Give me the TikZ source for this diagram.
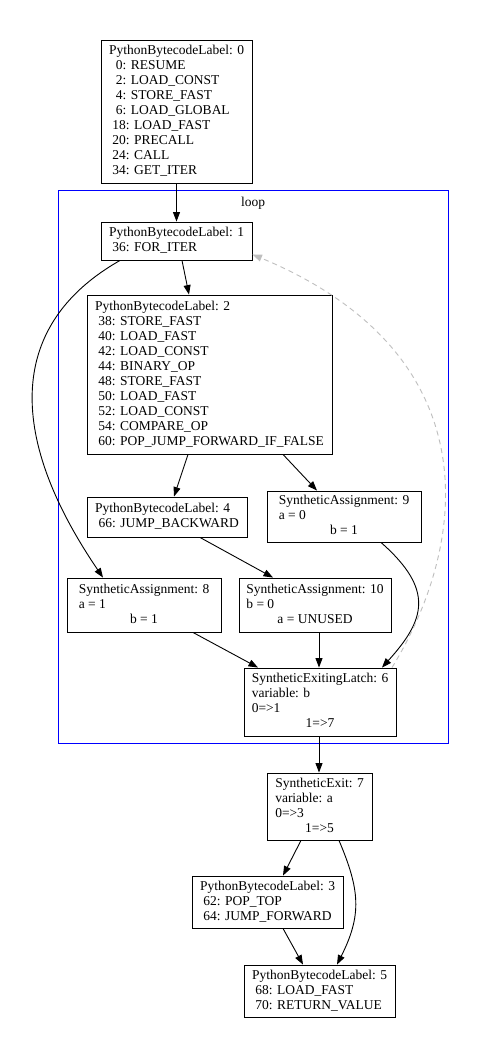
\documentclass[tikz,border=0pt]{standalone}
\usepackage{fontspec}
\setmainfont{Liberation Serif}
\usetikzlibrary{arrows.meta}
\newcommand{\gvl}[1]{\begin{tabular}{@{}l@{}}#1\end{tabular}}
\newcommand{\gvc}[1]{\multicolumn{1}{@{}c@{}}{#1}}
\tikzset{
  box/.style={draw, line width=0.9pt, inner sep=0pt, font=\fontsize{13.5}{15}\selectfont},
  edge/.style={-{Triangle[length=9.5pt,width=7pt]}, line width=0.9pt},
  backedge/.style={edge, draw=black!25, dash pattern=on 5pt off 4pt},
  cluster/.style={draw=blue, line width=0.9pt},
}
\begin{document}
\begin{tikzpicture}[x=1pt,y=-1pt]
\useasboundingbox (0,0) rectangle (497,1058);
\fill[white] (0,0) rectangle (497,1058);
% cluster
\draw[cluster] (58.3,190.7) rectangle (448,743);
\node[font=\fontsize{13.5}{15}\selectfont] (looplabel) at (253,203) {loop};
% nodes
\node[box, minimum width=151pt, minimum height=143pt] (n0) at (176.5,111.5) {\gvl{PythonBytecodeLabel: 0\\
\ \ 0: RESUME\\
\ \ 2: LOAD\_CONST\\
\ \ 4: STORE\_FAST\\
\ \ 6: LOAD\_GLOBAL\\
\ 18: LOAD\_FAST\\
\ 20: PRECALL\\
\ 24: CALL\\
\ 34: GET\_ITER}};
\node[box, minimum width=151pt, minimum height=38pt] (n1) at (176.5,241) {\gvl{PythonBytecodeLabel: 1\\
\ 36: FOR\_ITER}};
\node[box, minimum width=245pt, minimum height=159pt] (n2) at (209.5,374.5) {\gvl{PythonBytecodeLabel: 2\\
\ 38: STORE\_FAST\\
\ 40: LOAD\_FAST\\
\ 42: LOAD\_CONST\\
\ 44: BINARY\_OP\\
\ 48: STORE\_FAST\\
\ 50: LOAD\_FAST\\
\ 52: LOAD\_CONST\\
\ 54: COMPARE\_OP\\
\ 60: POP\_JUMP\_FORWARD\_IF\_FALSE}};
\node[box, minimum width=160pt, minimum height=40pt] (n4) at (167,517) {\gvl{PythonBytecodeLabel: 4\\
\ 66: JUMP\_BACKWARD}};
\node[box, minimum width=154pt, minimum height=51pt] (n9) at (344,516.5) {\gvl{SyntheticAssignment: 9\\
a = 0\\
\gvc{b = 1}}};
\node[box, minimum width=154pt, minimum height=54pt] (n8) at (144,605) {\gvl{SyntheticAssignment: 8\\
a = 1\\
\gvc{b = 1}}};
\node[box, minimum width=152pt, minimum height=54pt] (n10) at (315,605) {\gvl{SyntheticAssignment: 10\\
b = 0\\
\gvc{a = UNUSED}}};
\node[box, minimum width=152pt, minimum height=68pt] (n6) at (320,702) {\gvl{SyntheticExitingLatch: 6\\
variable: b\\
0=>1\\
\gvc{1=>7}}};
\node[box, minimum width=105pt, minimum height=67pt] (n7) at (319.5,806.5) {\gvl{SyntheticExit: 7\\
variable: a\\
0=>3\\
\gvc{1=>5}}};
\node[box, minimum width=151pt, minimum height=52pt] (n3) at (267.5,902) {\gvl{PythonBytecodeLabel: 3\\
\ 62: POP\_TOP\\
\ 64: JUMP\_FORWARD}};
\node[box, minimum width=151pt, minimum height=52pt] (n5) at (319.5,991) {\gvl{PythonBytecodeLabel: 5\\
\ 68: LOAD\_FAST\\
\ 70: RETURN\_VALUE}};
% edges
\draw[edge] (n0.south) -- (n1.north);
\draw[edge] ([xshift=5.5pt]n1.south) -- ([xshift=-20.5pt]n2.north);
\draw[edge] ([xshift=-56.5pt]n1.south) .. controls (10,323) and (4,432) .. ([xshift=-41pt]n8.north);
\draw[edge] ([xshift=-21.5pt]n2.south) -- ([xshift=7pt]n4.north);
\draw[edge] ([xshift=73.5pt]n2.south) -- ([xshift=-27pt]n9.north);
\draw[edge] ([xshift=33pt]n4.south) -- ([xshift=-42pt]n10.north);
\draw[edge] ([xshift=49pt]n8.south) -- ([xshift=-62pt]n6.north);
\draw[edge] ([xshift=4pt]n10.south) -- ([xshift=-1pt]n6.north);
\draw[edge] ([xshift=37pt]n9.south) .. controls (435,590) and (425,620) .. ([xshift=62pt]n6.north);
\draw[backedge] ([xshift=72pt]n6.north) .. controls (472,537) and (487,352) .. ([yshift=6pt]n1.south east);
\draw[edge] ([xshift=-1pt]n6.south) -- ([xshift=-0.5pt]n7.north);
\draw[edge] ([xshift=-18.5pt]n7.south) -- ([xshift=15.5pt]n3.north);
\draw[edge] ([xshift=19.5pt]n7.south) .. controls (360,890) and (362,915) .. ([xshift=17.5pt]n5.north);
\draw[edge] ([xshift=15.5pt]n3.south) -- ([xshift=-16.5pt]n5.north);
\end{tikzpicture}
\end{document}
